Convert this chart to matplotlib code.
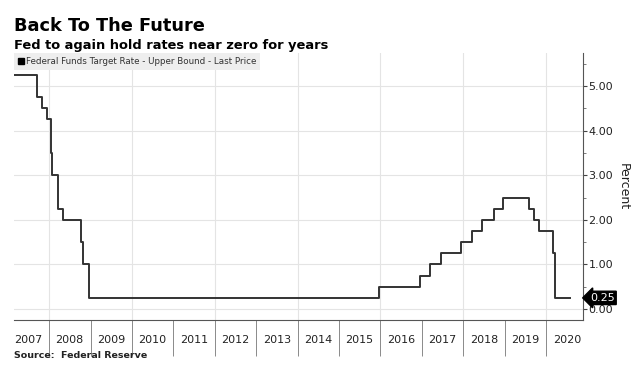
import numpy as np
import pandas as pd
import matplotlib
matplotlib.use("Agg")
import matplotlib.pyplot as plt
from matplotlib.lines import Line2D

# Fed funds target rate, upper bound (change dates)
dates = ["2007-02-26", "2007-09-18", "2007-10-31", "2007-12-11", "2008-01-22",
         "2008-01-30", "2008-03-18", "2008-04-30", "2008-10-08", "2008-10-29",
         "2008-12-16", "2015-12-16", "2016-12-14", "2017-03-15", "2017-06-14",
         "2017-12-13", "2018-03-21", "2018-06-13", "2018-09-26", "2018-12-19",
         "2019-07-31", "2019-09-18", "2019-10-30", "2020-03-03", "2020-03-15",
         "2020-07-31"]
rates = [5.25, 4.75, 4.50, 4.25, 3.50, 3.00, 2.25, 2.00, 1.50, 1.00,
         0.25, 0.50, 0.75, 1.00, 1.25, 1.50, 1.75, 2.00, 2.25, 2.50,
         2.25, 2.00, 1.75, 1.25, 0.25, 0.25]
years = list(range(2007, 2021))
yticks = [0, 1, 2, 3, 4, 5]
last_value = 0.25

dates = pd.to_datetime(dates)

fig = plt.figure(figsize=(6.37, 3.71), dpi=100)
ax = fig.add_axes([0.022, 0.137, 0.893, 0.72])

ax.step(dates, rates, where="post", color="#333333", lw=1.4, zorder=3)

ax.set_xlim(pd.Timestamp("2007-02-26"), pd.Timestamp("2020-11-20"))
ax.set_ylim(-0.25, 5.74)

# y axis on the right
ax.yaxis.tick_right()
ax.yaxis.set_label_position("right")
ax.set_yticks(yticks)
ax.set_yticklabels([f"{v:.2f}" for v in yticks], fontsize=8, color="#222222")
ax.set_yticks(np.arange(0.5, 5.6, 1.0), minor=True)
ax.tick_params(axis="y", which="major", length=3, width=0.8, pad=1, colors="#444444", labelcolor="#222222")
ax.tick_params(axis="y", which="minor", length=2, width=0.6, colors="#666666")
ax.set_ylabel("Percent", fontsize=9, rotation=270, labelpad=12, color="#222222")

# x axis: separators at year boundaries, labels mid-year
ax.set_xticks([pd.Timestamp(f"{y}-01-01") for y in years[1:]])
ax.set_xticklabels([])
ax.set_xticks([pd.Timestamp(f"{y}-07-01") for y in years], minor=True)
ax.set_xticklabels([str(y) for y in years], minor=True, fontsize=8, color="#222222")
ax.tick_params(axis="x", which="major", length=26, width=0.6, color="#777777")
ax.tick_params(axis="x", which="minor", length=0, pad=11)

# grid
for y in yticks:
    ax.axhline(y, color="#e4e4e4", lw=0.8, zorder=1)
for y in range(2008, 2021, 2):
    ax.axvline(pd.Timestamp(f"{y}-01-01"), color="#e4e4e4", lw=0.8, zorder=1)

for s in ["top", "left"]:
    ax.spines[s].set_visible(False)
ax.spines["right"].set_color("#555555")
ax.spines["bottom"].set_color("#555555")
ax.spines["right"].set_linewidth(0.8)
ax.spines["bottom"].set_linewidth(0.8)

# last price tag
ax.annotate(f"{last_value:.2f}", xy=(1.0, last_value), xycoords=("axes fraction", "data"),
            xytext=(5, 0), textcoords="offset points", fontsize=8, color="white",
            va="center", ha="left",
            bbox=dict(boxstyle="larrow,pad=0.15", fc="black", ec="black"),
            annotation_clip=False, zorder=5)

# legend
handle = Line2D([], [], marker="s", color="black", ls="none", markersize=4.5)
leg = ax.legend([handle], ["Federal Funds Target Rate - Upper Bound - Last Price"],
                loc="upper left", bbox_to_anchor=(0.0, 1.0), fontsize=6.3,
                frameon=True, fancybox=False, handlelength=0.6, handletextpad=0.3,
                borderpad=0.45, borderaxespad=0.0)
leg.get_frame().set_facecolor("#eeeeee")
leg.get_frame().set_edgecolor("none")
leg.get_frame().set_alpha(1)
for t in leg.get_texts():
    t.set_color("#333333")

fig.text(0.022, 0.955, "Back To The Future", fontsize=12.8, fontweight="bold", va="top", ha="left")
fig.text(0.022, 0.895, "Fed to again hold rates near zero for years", fontsize=9.4,
         fontweight="bold", va="top", ha="left")
fig.text(0.022, 0.03, "Source:  Federal Reserve", fontsize=6.8, fontweight="bold",
         va="bottom", ha="left", color="#222222")

fig.savefig("out.png", dpi=100, facecolor="white")
